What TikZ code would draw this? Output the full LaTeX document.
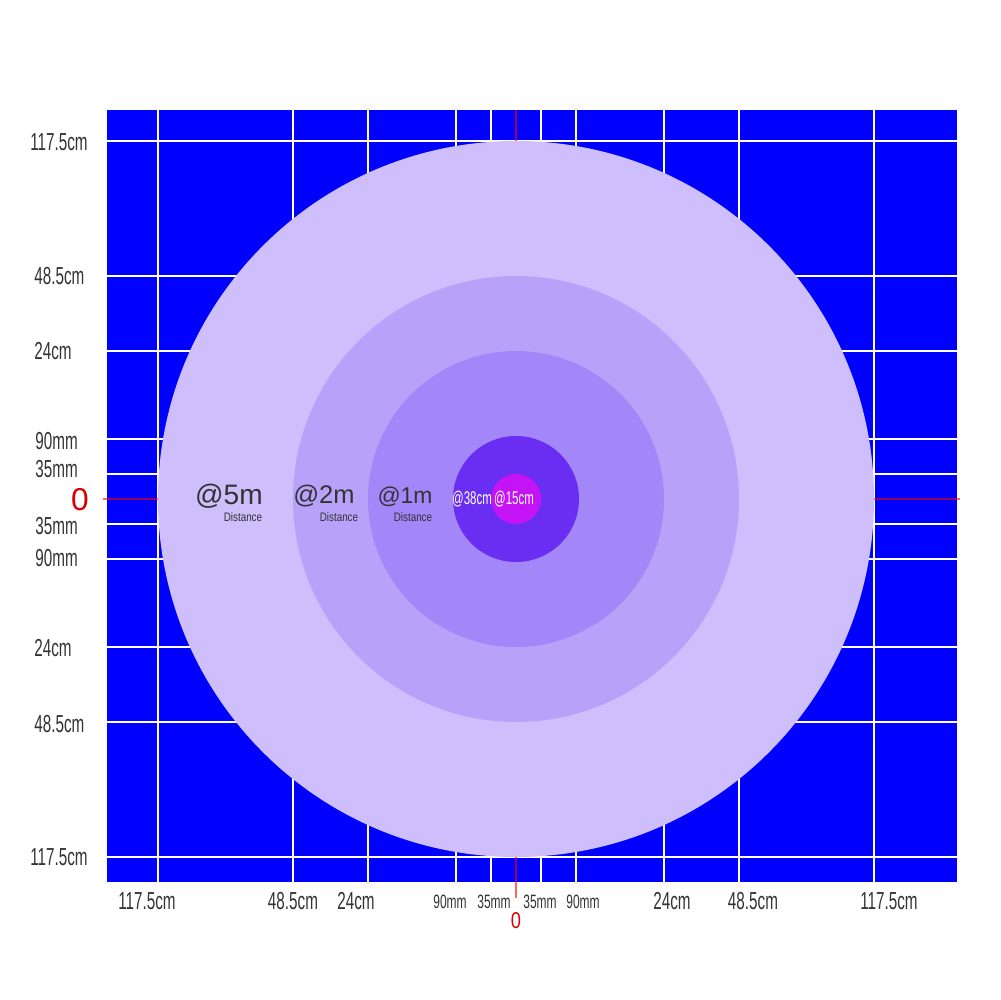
\documentclass[tikz,border=0pt]{standalone}
\usepackage{fontspec}
\setmainfont{Liberation Sans}
\newfontfamily\condfont[FakeStretch=0.62]{Liberation Sans}
\newfontfamily\narrowfont[FakeStretch=0.8]{Liberation Sans}
\usepackage{tikz}
\usetikzlibrary{positioning}

\definecolor{planeblue}{HTML}{0000FF}
\definecolor{ringA}{HTML}{CEBEFC}
\definecolor{ringB}{HTML}{B8A2F9}
\definecolor{ringC}{HTML}{A386F8}
\definecolor{ringD}{HTML}{6A2EF2}
\definecolor{ringE}{HTML}{C414F6}
\definecolor{labelgray}{HTML}{333333}

\tikzset{
  gridline/.style={white,line width=0.6pt},
  axisline/.style={red,opacity=0.6,line width=0.6pt},
  axislabel/.style={labelgray,font=\condfont\fontsize{14}{16}\selectfont,inner sep=0pt},
  smalllabel/.style={labelgray,font=\condfont\fontsize{11}{13}\selectfont,inner sep=0pt},
  zerolabel/.style={red!85!black,inner sep=0pt},
  distlabel/.style={labelgray,font=\fontsize{16}{18}\selectfont,inner sep=0pt},
  distnote/.style={labelgray,font=\narrowfont\fontsize{7}{8}\selectfont,inner sep=0pt},
  innerlabel/.style={white,font=\condfont\fontsize{10.5}{12}\selectfont,inner sep=0pt}
}

\begin{document}
\begin{tikzpicture}[x=0.02cm,y=0.02cm]
    \useasboundingbox (-516,499) rectangle (484,-501);

    % Blue plane with grid
    \fill[planeblue] (-409,389) rectangle (441,-383);
    \foreach \d in {25,60,148,223,358}{
      \draw[gridline] (-\d,389) -- (-\d,-383);
      \draw[gridline] (\d,389) -- (\d,-383);
      \draw[gridline] (-409,\d) -- (441,\d);
      \draw[gridline] (-409,-\d) -- (441,-\d);
    }

    % Axes through the centre
    \coordinate (axL) at (-413,0);
    \coordinate (axR) at (444,0);
    \coordinate (axT) at (0,389);
    \coordinate (axB) at (0,-399);
    \draw[axisline] (axL) -- (axR);
    \draw[axisline] (axT) -- (axB);

    % Distance rings
    \fill[ringA] (0,0) circle (358);
    \fill[ringB] (0,0) circle (223);
    \fill[ringC] (0,0) circle (148);
    \fill[ringD] (0,0) circle (63);
    \fill[ringE] (0,0) circle (25);

    % Ring labels
    \node[distlabel] (d5) at (-287,3) {@5m};
    \node[distnote] (n5) at (-273,-18) {Distance};
    \node[distlabel,font=\fontsize{14.5}{16}\selectfont] (d2) at (-192,3) {@2m};
    \node[distnote] (n2) at (-177,-18) {Distance};
    \node[distlabel,font=\fontsize{13}{15}\selectfont] (d1) at (-111,2) {@1m};
    \node[distnote] (n1) at (-103,-18) {Distance};
    \node[innerlabel] (d38) at (-44,0) {@38cm};
    \node[innerlabel] (d15) at (-2,0) {@15cm};

    % Left scale
    \node[axislabel,anchor=west] (l1) at (-486,357) {117.5cm};
    \node[axislabel,anchor=west] (l2) at (-482,223) {48.5cm};
    \node[axislabel,anchor=west] (l3) at (-482,148) {24cm};
    \node[axislabel,anchor=west] (l4) at (-481,58) {90mm};
    \node[axislabel,anchor=west] (l5) at (-481,30) {35mm};
    \node[zerolabel,font=\fontsize{18}{20}\selectfont] (l0) at (-436,-1) {0};
    \node[axislabel,anchor=west] (l6) at (-481,-27) {35mm};
    \node[axislabel,anchor=west] (l7) at (-481,-59) {90mm};
    \node[axislabel,anchor=west] (l8) at (-482,-149) {24cm};
    \node[axislabel,anchor=west] (l9) at (-482,-225) {48.5cm};
    \node[axislabel,anchor=west] (l10) at (-486,-358) {117.5cm};

    % Bottom scale
    \node[axislabel] (b1) at (-369,-402) {117.5cm};
    \node[axislabel] (b2) at (-223,-402) {48.5cm};
    \node[axislabel] (b3) at (-160,-402) {24cm};
    \node[smalllabel] (b4) at (-66,-403) {90mm};
    \node[smalllabel] (b5) at (-22,-403) {35mm};
    \node[smalllabel] (b6) at (24,-403) {35mm};
    \node[smalllabel] (b7) at (67,-403) {90mm};
    \node[axislabel] (b8) at (156,-402) {24cm};
    \node[axislabel] (b9) at (237,-402) {48.5cm};
    \node[axislabel] (b10) at (373,-402) {117.5cm};
    \node[zerolabel,font=\narrowfont\fontsize{13}{15}\selectfont] (b0) at (0,-422) {0};
  \end{tikzpicture}
\end{document}
